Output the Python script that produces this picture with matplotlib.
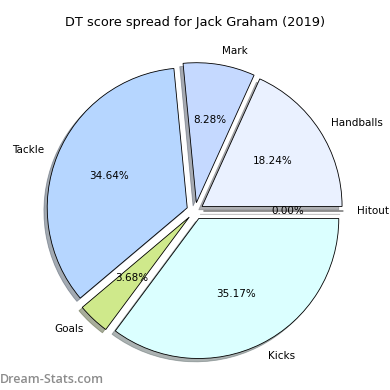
import matplotlib
matplotlib.use('Agg')
from matplotlib import pyplot as plt

labels = ['Hitout', 'Handballs', 'Mark', 'Tackle', 'Goals', 'Kicks']
values = [0.00, 18.24, 8.28, 34.64, 3.68, 35.17]
colors = ['#ffffff', '#eaf1ff', '#c5d9ff', '#b6d6ff', '#cfe98b', '#dbffff']
explode = [0.06] * len(values)

fig = plt.figure(figsize=(3.9, 3.9), dpi=100)
ax = fig.add_axes([20/390., 4/390., 350/390., 350/390.])

wedges, texts, autotexts = ax.pie(values, labels=labels, colors=colors, explode=explode,
                                  autopct='%1.2f%%', startangle=0,
                                  shadow={'ox': -0.017, 'oy': -0.017, 'shade': 0.6},
                                  wedgeprops={'edgecolor': 'black', 'linewidth': 0.6},
                                  textprops={'fontsize': 7.5})
ax.set_aspect('equal')
ax.set_title('DT score spread for Jack Graham (2019)', fontsize=9.3, pad=7)

fig.text(0.0, 0.01, 'Dream-Stats.com', fontsize=9, color='#8c8c8c',
         family='Open Sans', weight='semibold', ha='left', va='bottom')

plt.savefig('out.png', dpi=100)
